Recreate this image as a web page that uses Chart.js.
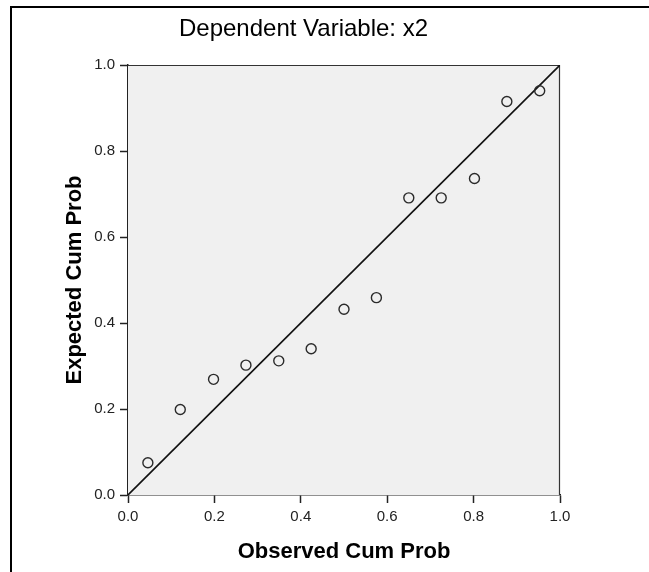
<!DOCTYPE html>
<html>
<head>
<meta charset="utf-8">
<script src="https://cdn.jsdelivr.net/npm/chart.js@4/dist/chart.umd.min.js"></script>
<style>
  html, body { margin: 0; padding: 0; background: #fff; }
  canvas { display: block; }
</style>
</head>
<body>
<canvas id="ppPlot" width="649" height="572"></canvas>
<script>
// P-P plot data
const observedCumProb = [0.046, 0.121, 0.198, 0.273, 0.349, 0.424, 0.5, 0.575, 0.65, 0.725, 0.802, 0.877, 0.953];
const expectedCumProb = [0.075, 0.199, 0.269, 0.302, 0.312, 0.340, 0.432, 0.459, 0.691, 0.691, 0.736, 0.915, 0.940];
// reference diagonal
const diagX = [0, 1];
const diagY = [0, 1];
const tickValues = [0, 0.2, 0.4, 0.6, 0.8, 1.0];

const FONT = '"Liberation Sans", Arial, sans-serif';

// grey plot background + top/right border
const plotBox = {
  id: 'plotBox',
  beforeDatasetsDraw(chart) {
    const { ctx, chartArea: a } = chart;
    ctx.save();
    ctx.fillStyle = '#f0f0f0';
    ctx.fillRect(a.left, a.top, a.right - a.left, a.bottom - a.top);
    ctx.strokeStyle = '#333';
    ctx.lineWidth = 1.2;
    ctx.beginPath();
    ctx.moveTo(a.left, a.top + 0.5);
    ctx.lineTo(a.right - 0.5, a.top + 0.5);
    ctx.lineTo(a.right - 0.5, a.bottom);
    ctx.stroke();
    ctx.restore();
  }
};

// outer frame (only left/top fall inside the picture)
const outerFrame = {
  id: 'outerFrame',
  afterDraw(chart) {
    const ctx = chart.ctx;
    ctx.save();
    ctx.strokeStyle = '#000';
    ctx.lineWidth = 2;
    ctx.strokeRect(11, 7, 1000, 1000);
    ctx.restore();
  }
};

function axisOpts(titleText, titlePad) {
  return {
    type: 'linear',
    min: 0,
    max: 1,
    afterBuildTicks: s => { s.ticks = tickValues.map(v => ({ value: v })); },
    ticks: {
      color: '#222',
      font: { family: FONT, size: 15 },
      padding: 5,
      autoSkip: false,
      maxRotation: 0,
      callback: v => v.toFixed(1)
    },
    grid: {
      drawOnChartArea: false,
      drawTicks: true,
      tickLength: 8,
      tickColor: '#222',
      tickWidth: 1.5
    },
    border: { display: true, color: '#222', width: 1.5 },
    title: {
      display: true,
      text: titleText,
      color: '#000',
      font: { family: FONT, size: 22, weight: 'bold' },
      padding: titlePad
    }
  };
}

const xAxis = axisOpts('Observed Cum Prob', { top: 0, bottom: 7 });
xAxis.afterFit = s => { s.height = 77; };
const yAxis = axisOpts('Expected Cum Prob', { top: 15, bottom: 0 });
yAxis.afterFit = s => { s.width = 81; };

new Chart(document.getElementById('ppPlot'), {
  type: 'scatter',
  data: {
    datasets: [
      {
        label: 'Observed',
        data: observedCumProb.map((x, i) => ({ x: x, y: expectedCumProb[i] })),
        pointStyle: 'circle',
        pointRadius: 5,
        pointBorderWidth: 1.4,
        pointBorderColor: '#2a2a2a',
        pointBackgroundColor: 'rgba(0,0,0,0)'
      },
      {
        label: 'Diagonal',
        data: diagX.map((x, i) => ({ x: x, y: diagY[i] })),
        showLine: true,
        pointRadius: 0,
        borderColor: '#111',
        borderWidth: 1.6
      }
    ]
  },
  options: {
    responsive: false,
    animation: false,
    layout: { padding: { left: 47, right: 89, top: 0, bottom: 0 } },
    plugins: {
      legend: { display: false },
      tooltip: { enabled: false },
      title: {
        display: true,
        text: 'Dependent Variable: x2',
        color: '#000',
        font: { family: FONT, size: 24, weight: 'normal', lineHeight: 1.2 },
        padding: { top: 14.6, bottom: 21.6 }
      }
    },
    scales: { x: xAxis, y: yAxis }
  },
  plugins: [plotBox, outerFrame]
});
</script>
</body>
</html>
